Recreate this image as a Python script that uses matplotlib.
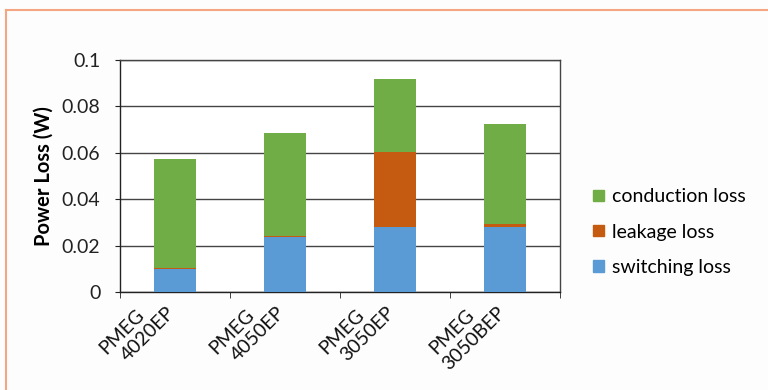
import matplotlib
matplotlib.use("Agg")
import matplotlib.pyplot as plt
from matplotlib.lines import Line2D
from matplotlib.patches import Patch

categories = ["PMEG\n4020EP", "PMEG\n4050EP", "PMEG\n3050EP", "PMEG\n3050BEP"]
switching = [0.0098, 0.0236, 0.0282, 0.0282]
leakage = [0.0005, 0.0005, 0.0321, 0.0011]
conduction = [0.0472, 0.0446, 0.0315, 0.0433]
yticks = [0, 0.02, 0.04, 0.06, 0.08, 0.1]
yticklabels = ["0", "0.02", "0.04", "0.06", "0.08", "0.1"]

c_sw = "#5B9BD5"
c_lk = "#C55A11"
c_cd = "#70AD47"

plt.rcParams['font.family'] = ['Lato', 'DejaVu Sans']
FS = 14

fig = plt.figure(figsize=(7.68, 3.9), dpi=100, facecolor="#FDFDFD")
ax = fig.add_axes([120/768, 1-292/390, 440/768, 232/390])
ax.set_facecolor("white")

x = list(range(len(categories)))
w = 0.39
ax.bar(x, switching, w, color=c_sw, zorder=3)
ax.bar(x, leakage, w, bottom=switching, color=c_lk, zorder=3)
bottom3 = [a + b for a, b in zip(switching, leakage)]
ax.bar(x, conduction, w, bottom=bottom3, color=c_cd, zorder=3)

ax.set_xlim(-0.5, len(categories) - 0.5)
ax.set_ylim(0, 0.1)
ax.set_yticks(yticks)
ax.set_yticklabels(yticklabels, fontsize=FS, color="#222222")
ax.yaxis.grid(True, color="#444444", linewidth=1.0, zorder=0)
ax.set_axisbelow(True)

ax.set_xticks(x)
ax.set_xticklabels([])
ax.set_xticks([i - 0.5 for i in range(len(categories) + 1)], minor=True)
ax.tick_params(axis="x", which="major", length=0)
ax.tick_params(axis="x", which="minor", length=4.3, direction="out", color="#222222")
ax.tick_params(axis="y", length=3.6, pad=10.5, direction="out", color="#222222")
for s in ax.spines.values():
    s.set_color("#444444")
    s.set_linewidth(1.0)
ax.spines["left"].set_color("#222222")
ax.spines["bottom"].set_color("#222222")

# two-line rotated category labels
for i, cat in enumerate(categories):
    l1, l2 = cat.split("\n")
    ax.annotate(l2, xy=(i, 0), xycoords=("data", "axes fraction"),
                xytext=(1, -22), textcoords="offset pixels",
                ha="right", va="baseline", rotation=45, rotation_mode="anchor",
                fontsize=FS, color="#111111", annotation_clip=False)
    ax.annotate(l1, xy=(i, 0), xycoords=("data", "axes fraction"),
                xytext=(-30, -24), textcoords="offset pixels",
                ha="right", va="baseline", rotation=45, rotation_mode="anchor",
                fontsize=FS, color="#111111", annotation_clip=False)

ax.set_ylabel("Power Loss (W)", fontsize=14.5, fontweight="bold", labelpad=6)

handles = [Patch(color=c_cd, label="conduction loss"),
           Patch(color=c_lk, label="leakage loss"),
           Patch(color=c_sw, label="switching loss")]
fig.legend(handles=handles, loc="center left", bbox_to_anchor=(593/768, 1-232/390),
           frameon=False, fontsize=FS, handlelength=0.55, handleheight=0.55,
           handletextpad=0.45, labelspacing=0.93, borderpad=0, borderaxespad=0)

# Orange frame lines (top and left)
fig.add_artist(Line2D([6/768, 1], [1-10/390, 1-10/390], transform=fig.transFigure,
                      color="#F4A582", linewidth=1.5))
fig.add_artist(Line2D([6/768, 6/768], [0, 1-10/390], transform=fig.transFigure,
                      color="#F4A582", linewidth=1.5))

fig.savefig("out.png", dpi=100, facecolor=fig.get_facecolor())
